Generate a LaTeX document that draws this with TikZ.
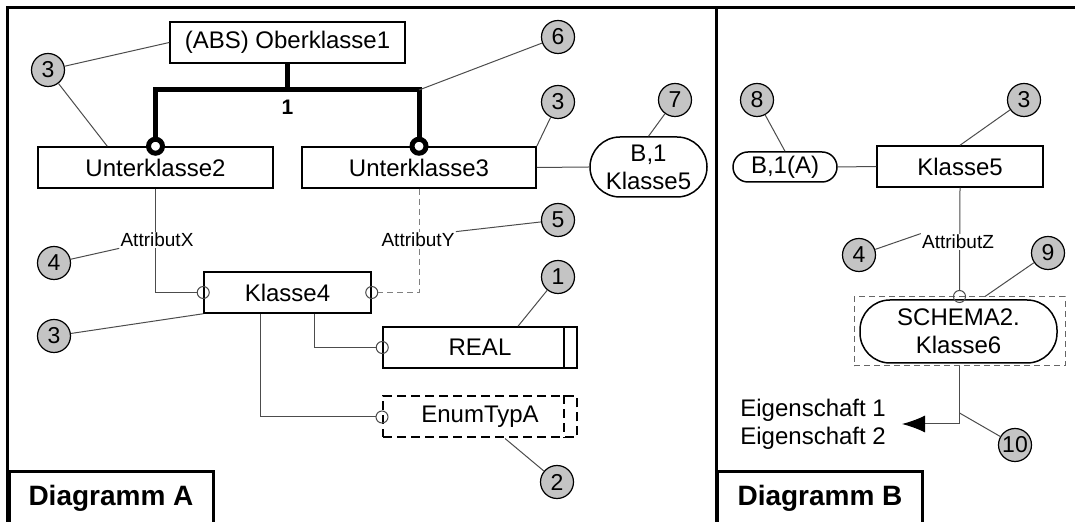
\documentclass[tikz,border=0pt]{standalone}
\usepackage{fontspec}
\setmainfont{Liberation Sans}
\usetikzlibrary{arrows.meta}

\tikzset{
  klasse/.style={draw,line width=0.75pt,minimum height=20.5pt,inner sep=0pt,font=\fontsize{12}{14}\selectfont},
  rund/.style={klasse,rounded corners=15pt,align=center},
  nummer/.style={circle,draw,line width=0.6pt,fill=black!23,minimum size=16.5pt,inner sep=0pt,font=\fontsize{11.5}{12}\selectfont},
  verb/.style={draw=black!70,line width=0.5pt},
  verbstrich/.style={verb,draw=black!50,dash pattern=on 3pt off 2pt},
  dick/.style={line width=2.5pt},
  ring/.style={circle,draw=black!70,line width=0.5pt,minimum size=6pt,inner sep=0pt},
  dickring/.style={circle,draw,fill=white,line width=2.5pt,minimum size=7pt,inner sep=0pt},
  attr/.style={fill=white,inner sep=0.5pt,font=\fontsize{9.5}{11}\selectfont},
  titel/.style={draw,line width=1.5pt,anchor=north west,minimum height=27pt,inner sep=0pt,font=\fontsize{14}{16}\selectfont\bfseries}
}

\begin{document}
\begin{tikzpicture}[x=0.5pt,y=-0.5pt,>={Latex[length=11.5pt,width=8.5pt,color=black]}]
\useasboundingbox (0,0) rectangle (1075,522);
\draw[line width=1.5pt] (7.5,8) rectangle (1090,524);
\draw[line width=1.5pt] (716,8) -- (716,524);
\node[titel,minimum width=102pt] (diaA) at (7.5,470) {Diagramm A};
\node[titel,minimum width=102.5pt] (diaB) at (716,470) {Diagramm B};

\node[klasse,minimum width=117.5pt] (ober) at (287.5,42.5) {(ABS) Oberklasse1};
\node[klasse,minimum width=117.5pt] (unter2) at (155.5,167.5) {Unterklasse2};
\node[klasse,minimum width=117pt] (unter3) at (419,167.5) {Unterklasse3};
\node[rund,minimum width=58.5pt,minimum height=30pt] (bklasse5) at (648.5,167) {B,1\\Klasse5};
\node[klasse,minimum width=83.5pt] (klasse4) at (287.5,292.5) {Klasse4};
\node[klasse,minimum width=97pt] (real) at (480,347.5) {REAL};
\draw[line width=0.75pt] ([xshift=-7pt]real.north east) -- ([xshift=-7pt]real.south east);
\node[klasse,line width=1pt,dash pattern=on 4.5pt off 2.5pt,minimum width=97pt] (enum) at (480,417) {EnumTypA};
\draw[line width=1pt,dash pattern=on 4.5pt off 2.5pt] ([xshift=-7pt]enum.north east) -- ([xshift=-7pt]enum.south east);

\node[dickring] (r2) at (unter2.north) {};
\node[dickring] (r3) at (unter3.north) {};
\coordinate (gabel) at (287.5,90);
\draw[dick] (ober.south) -- (gabel);
\draw[dick] (r2.north) |- (gabel) -| (r3.north);
\coordinate (ecke) at (r3.north |- gabel);
\node[font=\fontsize{10.5}{12}\selectfont\bfseries] (eins) at (287.5,107) {1};

\node[ring] (ringX) at (klasse4.west) {};
\node[ring] (ringY) at (klasse4.east) {};
\node[ring] (ringR) at (real.west) {};
\node[ring] (ringE) at (enum.west) {};
\draw[verb] (unter2.south) |- (ringX.west);
\draw[verbstrich] (unter3.south) |- (ringY.east);
\draw[verb] ([xshift=13.25pt]klasse4.south) |- (ringR.west);
\draw[verb] ([xshift=-13.75pt]klasse4.south) |- (ringE.west);
\draw[verb] (unter3.east) -- (bklasse5.west);
\node[attr] (attX) at (157,240) {AttributX};
\node[attr] (attY) at (418,240) {AttributY};

\node[nummer] (n3a) at (48,70) {3};
\node[nummer] (n6) at (558,37) {6};
\node[nummer] (n3b) at (558,102) {3};
\node[nummer] (n7) at (675,100) {7};
\node[nummer] (n5) at (558,220) {5};
\node[nummer] (n4a) at (54,263) {4};
\node[nummer] (n3c) at (54,336) {3};
\node[nummer] (n1) at (558,277) {1};
\node[nummer] (n2) at (557,482) {2};
\draw[verb] (n3a) -- (ober.west);
\draw[verb] (n3a) -- ([xshift=35pt]unter2.north west);
\draw[verb] (n6) -- (ecke);
\draw[verb] (n3b) -- (unter3.north east);
\draw[verb] (n7) -- (bklasse5.north);
\draw[verb] (n5) -- (attY.north east);
\draw[verb] (n4a) -- (attX.south west);
\draw[verb] (n3c) -- (klasse4.south west);
\draw[verb] (n1) -- ([xshift=19pt]real.north);
\draw[verb] (n2) -- ([xshift=12.5pt]enum.south);

\node[klasse,minimum width=83pt] (klasse5) at (960,166.5) {Klasse5};
\node[rund,rounded corners=7.5pt,minimum width=52pt,minimum height=15pt] (ba) at (785,167) {B,1(A)};
\node[draw=black!60,line width=0.5pt,dash pattern=on 3pt off 2pt,minimum width=105.5pt,minimum height=34.5pt,inner sep=0pt] (rahmen) at (959.5,331.5) {};
\node[rund,minimum width=98.5pt,minimum height=31.5pt] (schema) at (958.5,331.5) {SCHEMA2.\\Klasse6};
\node[ring] (ringS) at (rahmen.north) {};
\draw[verb] (ba.east) -- (klasse5.west);
\draw[verb] (klasse5.south) -- (ringS.north);
\node[attr] (attZ) at (958,242) {AttributZ};
\coordinate (pfeil) at (902,424);
\coordinate (knick) at (rahmen.south |- pfeil);
\draw[verb,->] (rahmen.south) |- (pfeil);
\node[anchor=west,align=left,inner sep=0pt,font=\fontsize{12}{14}\selectfont] (eig) at (740,424) {Eigenschaft 1\\Eigenschaft 2};

\node[nummer] (n8) at (757,100) {8};
\node[nummer] (n3d) at (1024,100) {3};
\node[nummer] (n4b) at (859,255) {4};
\node[nummer] (n9) at (1048,253) {9};
\node[nummer] (n10) at (1015,445) {10};
\draw[verb] (n8) -- (ba.north);
\draw[verb] (n3d) -- (klasse5.north);
\draw[verb] (n4b) -- (attZ.north west);
\draw[verb] (n9) -- ([xshift=12.75pt]rahmen.north);
\draw[verb] (n10) -- ([yshift=5.5pt]knick);
\end{tikzpicture}
\end{document}
